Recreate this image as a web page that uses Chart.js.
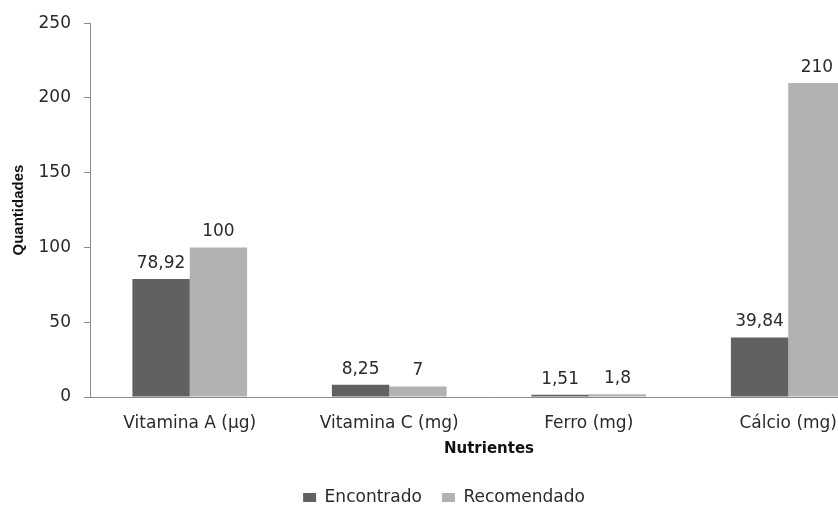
<!DOCTYPE html>
<html>
<head>
<meta charset="utf-8">
<script src="https://cdn.jsdelivr.net/npm/chart.js@4/dist/chart.umd.min.js"></script>
<style>
  html, body { margin: 0; padding: 0; background: #fff; overflow: hidden; }
  #wrap { width: 838px; height: 505px; overflow: hidden; }
  canvas { display: block; }
</style>
</head>
<body>
<div id="wrap"><canvas id="c" width="900" height="505"></canvas></div>
<script>
// Nutrient amounts: found in the sample vs. recommended
const categories = ['Vitamina A (µg)', 'Vitamina C (mg)', 'Ferro (mg)', 'Cálcio (mg)'];
const encontrado = [78.92, 8.25, 1.51, 39.84];
const recomendado = [100, 7, 1.8, 210];
const yTicks = [0, 50, 100, 150, 200, 250];

const FONT = "'DejaVu Sans', 'Open Sans', sans-serif";
const TEXT = '#2a2a2a';
const AXIS = '#8a8a8a';

// Writes each bar's value above it, with a decimal comma
const valueLabels = {
  id: 'valueLabels',
  afterDatasetsDraw(chart) {
    const ctx = chart.ctx;
    ctx.save();
    ctx.font = '17px ' + FONT;
    ctx.fillStyle = TEXT;
    ctx.textAlign = 'center';
    ctx.textBaseline = 'bottom';
    chart.data.datasets.forEach((ds, i) => {
      const meta = chart.getDatasetMeta(i);
      meta.data.forEach((bar, j) => {
        const txt = String(ds.data[j]).replace('.', ',');
        ctx.fillText(txt, bar.x, bar.y - 7);
      });
    });
    ctx.restore();
  }
};

new Chart(document.getElementById('c'), {
  type: 'bar',
  data: {
    labels: categories,
    datasets: [
      { label: 'Encontrado', data: encontrado, backgroundColor: '#616161', borderWidth: 0 },
      { label: 'Recomendado', data: recomendado, backgroundColor: '#b2b2b2', borderWidth: 0 }
    ]
  },
  options: {
    responsive: false,
    animation: false,
    devicePixelRatio: 1,
    layout: { padding: { top: 13, right: 12, left: 0, bottom: -11 } },
    datasets: { bar: { categoryPercentage: 0.575, barPercentage: 1.0 } },
    plugins: {
      tooltip: { enabled: false },
      legend: {
        position: 'bottom',
        labels: {
          boxWidth: 13, boxHeight: 9, padding: 20,
          color: TEXT,
          font: { family: FONT, size: 17 }
        }
      }
    },
    scales: {
      x: {
        afterFit(scale) { scale.height = 72; },
        grid: { display: false, drawTicks: false },
        border: { display: true, color: AXIS, width: 1 },
        ticks: { color: TEXT, font: { family: FONT, size: 17 }, padding: 16, maxRotation: 0 },
        title: {
          display: true, text: 'Nutrientes', color: '#111',
          font: { family: FONT, size: 15, weight: 'bold' },
          padding: { top: 2, bottom: 11 }
        }
      },
      y: {
        min: 0, max: 250,
        afterBuildTicks(scale) { scale.ticks = yTicks.map(v => ({ value: v })); },
        afterFit(scale) { scale.width = 90; },
        grid: { display: true, drawOnChartArea: false, drawTicks: true, tickLength: 6, color: AXIS },
        border: { display: true, color: AXIS, width: 1 },
        ticks: { color: TEXT, font: { family: FONT, size: 17 }, padding: 13 },
        title: {
          display: true, text: 'Quantidades', color: '#111',
          font: { family: "'Liberation Sans', Arial, sans-serif", size: 15, weight: 'bold' },
          padding: { top: 10, bottom: 4 }
        }
      }
    }
  },
  plugins: [valueLabels]
});
</script>
</body>
</html>
